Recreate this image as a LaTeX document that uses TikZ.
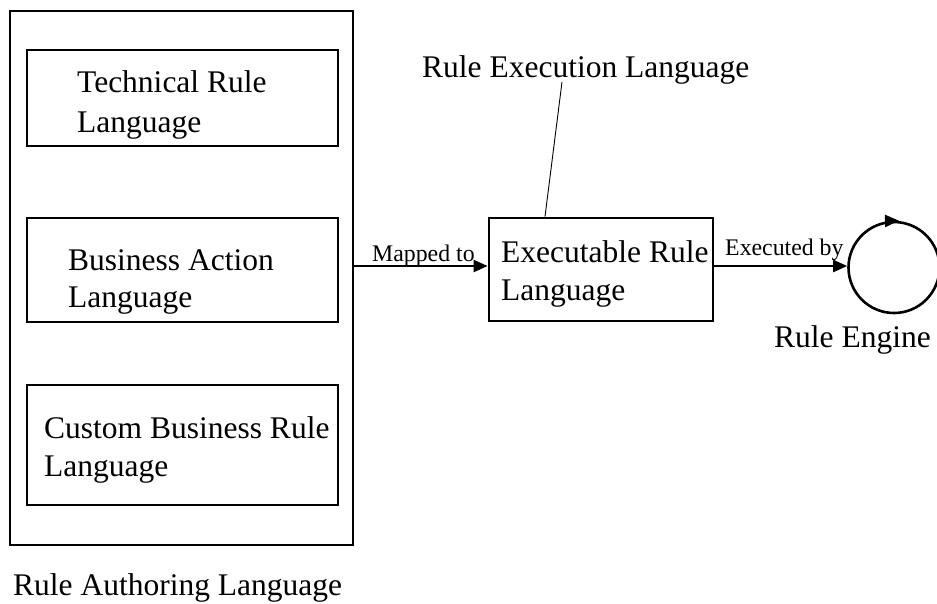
\documentclass[tikz,border=0pt]{standalone}
\usepackage{fontspec}
\setmainfont{Liberation Serif}
\usetikzlibrary{arrows.meta}
\begin{document}
\begin{tikzpicture}[x=1pt,y=-1pt,
  big/.style={font=\fontsize{31.5}{36}\selectfont, inner sep=0pt, anchor=base west},
  small/.style={font=\fontsize{23.8}{26}\selectfont, inner sep=0pt, anchor=base west},
  frame/.style={draw, line width=2.8pt},
  arr/.style={line width=2.2pt, -{Triangle[length=14pt,width=12pt]}},
  leader/.style={line width=0.9pt}]
\useasboundingbox (0,0) rectangle (937,603);

% language group on the left
\draw[frame] (10,11) rectangle (353,545);
\node[inner sep=0pt, minimum width=343pt, minimum height=534pt] (author) at (181.5,278) {};
\draw[frame] (27,50) rectangle (338,146);
\draw[frame] (27,218) rectangle (338,322);
\draw[frame] (27,385) rectangle (338,505);

\node[big] (tech1) at (77,92) {Technical Rule};
\node[big] (tech2) at (77,132) {Language};
\node[big] (bal1) at (68,270) {Business Action};
\node[big] (bal2) at (68,307) {Language};
\node[big] (cbr1) at (44,438) {Custom Business Rule};
\node[big] (cbr2) at (44,476) {Language};
\node[big] (authlabel) at (13,595) {Rule Authoring Language};

% executable language box
\node[frame, inner sep=0pt, minimum width=224pt, minimum height=103pt] (exec) at (601,269.5) {};
\node[big] (exe1) at (501,262) {Executable Rule};
\node[big] (exe2) at (501,300) {Language};

% leader to the execution language label
\node[big] (execlabel) at (422,77) {Rule Execution Language};
\coordinate (leadtop) at (562,82);
\draw[leader] (exec.north -| 545,0) -- (leadtop);

% rule engine
\node[draw, circle, line width=2.6pt, inner sep=0pt, minimum size=91pt] (engine) at (894,267.5) {};
\draw[line width=2.2pt, -{Triangle[length=14pt,width=12pt]}] ([xshift=-6pt,yshift=-0.2pt]engine.north) -- ([xshift=5pt]engine.north);
\node[big] (enginelabel) at (774,347) {Rule Engine};

% flow connectors
\coordinate (flow) at (0,266);
\draw[arr] (author.east |- flow) -- (exec.west |- flow);
\node[small] (mapped) at (372,261) {Mapped to};
\draw[arr] (exec.east |- flow) -- (engine.west |- flow);
\node[small] (execby) at (725,255) {Executed by};
\end{tikzpicture}
\end{document}
